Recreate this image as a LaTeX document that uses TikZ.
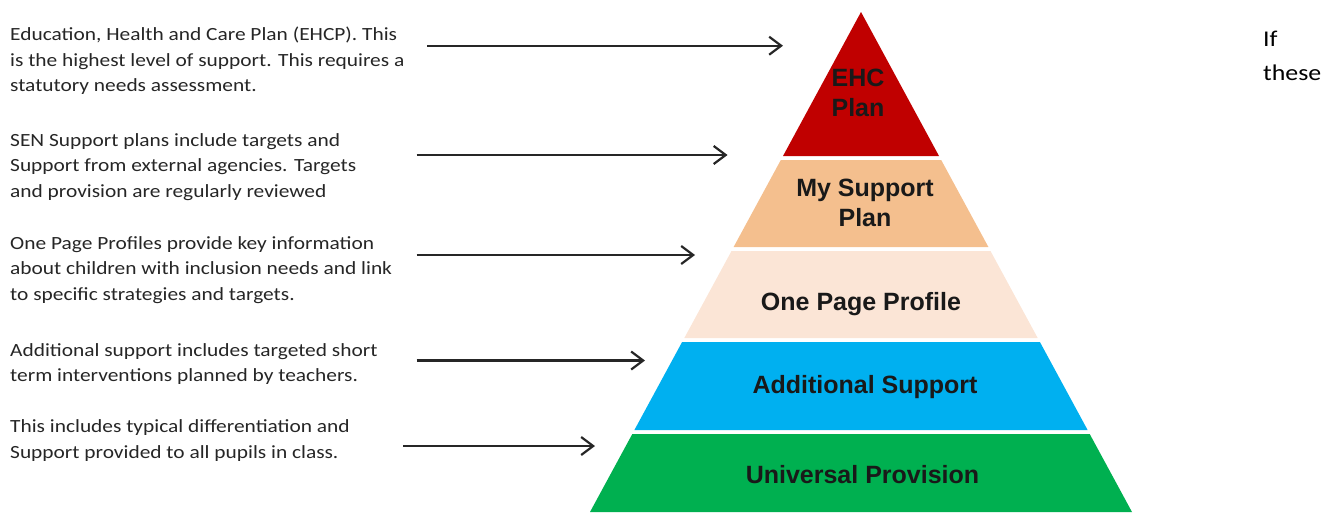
\documentclass[tikz,border=0pt]{standalone}
\usepackage{fontspec}
\setmainfont{Carlito}[FakeStretch=1.15]
\newfontfamily\labfont{Liberation Sans}
\usetikzlibrary{arrows.meta}
\definecolor{ehc}{HTML}{C00000}
\definecolor{msp}{HTML}{F4BF8E}
\definecolor{opp}{HTML}{FBE5D6}
\definecolor{adds}{HTML}{00B0F0}
\definecolor{uni}{HTML}{00B050}
\definecolor{ink}{HTML}{262626}
\begin{document}
\begin{tikzpicture}[x=1pt,y=-1pt,
  desc/.style={anchor=base west, inner sep=0pt, align=left, font=\fontsize{18.6}{25.6}\selectfont, text=ink},
  lab/.style={inner sep=0pt, anchor=base, align=center, font=\labfont\bfseries\fontsize{25}{30}\selectfont, text=black!90},
  ptr/.style={draw=black!85, line width=2.2pt, -{Straight Barb[length=12pt,width=18pt]}}]
\useasboundingbox (0,0) rectangle (1327,512);
% pyramid layers
\fill[ehc]  (861,12) -- (939,156) -- (783,156) -- cycle;
\fill[msp]  (780.8,160) -- (941.2,160) -- (988.4,247) -- (733.6,247) -- cycle;
\fill[opp]  (731.5,251) -- (990.5,251) -- (1037.7,338) -- (684.3,338) -- cycle;
\fill[adds] (682.1,342) -- (1039.9,342) -- (1087.6,430) -- (634.4,430) -- cycle;
\fill[uni]  (632.3,434) -- (1089.7,434) -- (1132,512) -- (590,512) -- cycle;
% labels (base anchor = baseline of last line)
\node[lab, font=\labfont\bfseries\fontsize{25}{29.5}\selectfont] (lehc) at (858,116) {EHC\\Plan};
\node[lab] (lmsp) at (865,226.7) {My Support\\Plan};
\node[lab] (lopp) at (861,310) {One Page Profile};
\node[lab] (ladd) at (865,393) {Additional Support};
\node[lab] (luni) at (862.5,483.5) {Universal Provision};
% descriptions
\node[desc] (d1) at (10,91.9) {Education, Health and Care Plan (EHCP). This\\is the highest level of support. This requires a\\statutory needs assessment.};
\node[desc] (d2) at (10,197.2) {SEN Support plans include targets and\\Support from external agencies. Targets\\and provision are regularly reviewed};
\node[desc] (d3) at (10,300.5) {One Page Profiles provide key information\\about children with inclusion needs and link\\to specific strategies and targets.};
\node[desc] (d4) at (10,381.6) {Additional support includes targeted short\\term interventions planned by teachers.};
\node[desc] (d5) at (10,458.3) {This includes typical differentiation and\\Support provided to all pupils in class.};
\node[anchor=base west, inner sep=0pt, align=left, font=\fontsize{22.5}{33.3}\selectfont, text=black] (side) at (1263,80) {If\\these};
% arrows
\coordinate (s1) at (427,45.7);   \coordinate (e1) at (783,45.7);
\coordinate (s2) at (416.7,155);  \coordinate (e2) at (727.5,155);
\coordinate (s3) at (416.7,255);  \coordinate (e3) at (695,255);
\coordinate (s4) at (416.7,360.5);\coordinate (e4) at (645,360.5);
\coordinate (s5) at (403.3,446);  \coordinate (e5) at (595,446);
\draw[ptr] (s1) -- (e1);
\draw[ptr] (s2) -- (e2);
\draw[ptr] (s3) -- (e3);
\draw[ptr] (s4) -- (e4);
\draw[ptr] (s5) -- (e5);
\end{tikzpicture}
\end{document}
